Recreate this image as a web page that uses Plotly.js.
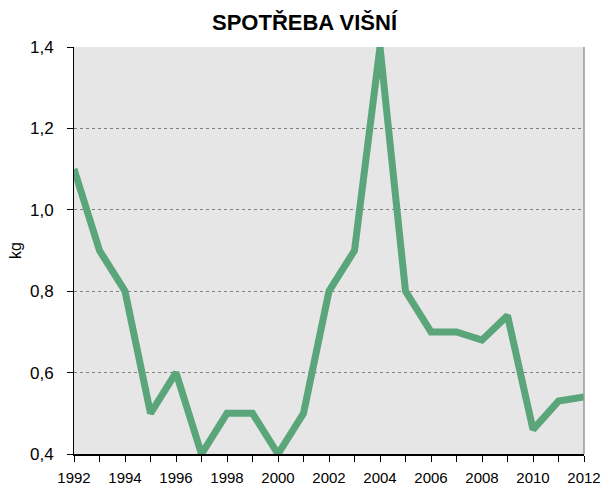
<!DOCTYPE html>
<html>
<head>
<meta charset="utf-8">
<script src="https://cdn.plot.ly/plotly-3.0.1.min.js"></script>
<style>html,body{margin:0;padding:0;background:#fff;}#chart{width:609px;height:488px;}</style>
</head>
<body>
<div id="chart"></div>
<script>
const years = [1992,1993,1994,1995,1996,1997,1998,1999,2000,2001,2002,2003,2004,2005,2006,2007,2008,2009,2010,2011,2012];
const consumption = [1.1,0.9,0.8,0.5,0.6,0.4,0.5,0.5,0.4,0.5,0.8,0.9,1.4,0.8,0.7,0.7,0.68,0.74,0.46,0.53,0.54];
const yTicks = [0.4,0.6,0.8,1.0,1.2,1.4];
const yTickText = ['0,4','0,6','0,8','1,0','1,2','1,4'];
const chartTitle = 'SPOTŘEBA VIŠNÍ';
const yTitle = 'kg';

const font = {family: '"Liberation Sans", Arial, sans-serif', color: '#000'};
const clear = 'rgba(0,0,0,0)';

const lineTrace = {
  x: years, y: consumption, type: 'scatter', mode: 'lines',
  line: {color: '#5ba57a', width: 7, shape: 'linear'},
  cliponaxis: true, hoverinfo: 'skip', xaxis: 'x', yaxis: 'y'
};
// invisible helper so the label axes are drawn
const labelTrace = {
  x: years, y: consumption, type: 'scatter', mode: 'lines',
  line: {color: clear, width: 0}, hoverinfo: 'skip', xaxis: 'x2', yaxis: 'y2'
};

const layout = {
  width: 609, height: 488,
  margin: {l: 74, r: 25, t: 47, b: 34},
  paper_bgcolor: '#ffffff', plot_bgcolor: '#e6e6e6',
  showlegend: false,
  font: Object.assign({size: 16}, font),
  title: {text: '<b>' + chartTitle + '</b>', x: 0.5, xanchor: 'center', y: 0.955, yanchor: 'middle',
          font: Object.assign({size: 22}, font)},
  xaxis: {
    range: [1992, 2012], tickmode: 'linear', tick0: 1992, dtick: 1,
    ticks: 'outside', ticklen: 6, tickcolor: '#000', tickwidth: 1,
    showticklabels: false,
    showline: true, linecolor: '#000', linewidth: 1.5, showgrid: false, zeroline: false,
    fixedrange: true
  },
  xaxis2: {
    overlaying: 'x', anchor: 'y2', side: 'bottom',
    range: [1992, 2012], tickmode: 'linear', tick0: 1992, dtick: 2,
    ticks: 'outside', ticklen: 10, tickcolor: clear,
    showline: false, showgrid: false, zeroline: false,
    tickfont: Object.assign({size: 15}, font), fixedrange: true
  },
  yaxis: {
    range: [0.4, 1.4], tickmode: 'array', tickvals: yTicks,
    ticks: 'outside', ticklen: 6, tickcolor: '#000',
    showticklabels: false,
    showline: true, linecolor: '#000', linewidth: 1.5,
    showgrid: true, gridcolor: '#808080', griddash: 'dot', gridwidth: 1, zeroline: false,
    fixedrange: true
  },
  yaxis2: {
    overlaying: 'y', anchor: 'x2', side: 'left',
    range: [0.4, 1.4], tickmode: 'array', tickvals: yTicks, ticktext: yTickText,
    ticks: 'outside', ticklen: 16, tickcolor: clear,
    showline: false, showgrid: false, zeroline: false,
    tickfont: Object.assign({size: 17}, font),
    title: {text: yTitle, font: Object.assign({size: 16}, font), standoff: 4},
    fixedrange: true
  },
  shapes: [
    {type: 'line', xref: 'paper', yref: 'paper', x0: 1, x1: 1, y0: 0, y1: 1,
     line: {color: '#999', width: 1.5}}
  ]
};
Plotly.newPlot('chart', [labelTrace, lineTrace], layout, {staticPlot: true, displayModeBar: false});
</script>
</body>
</html>
